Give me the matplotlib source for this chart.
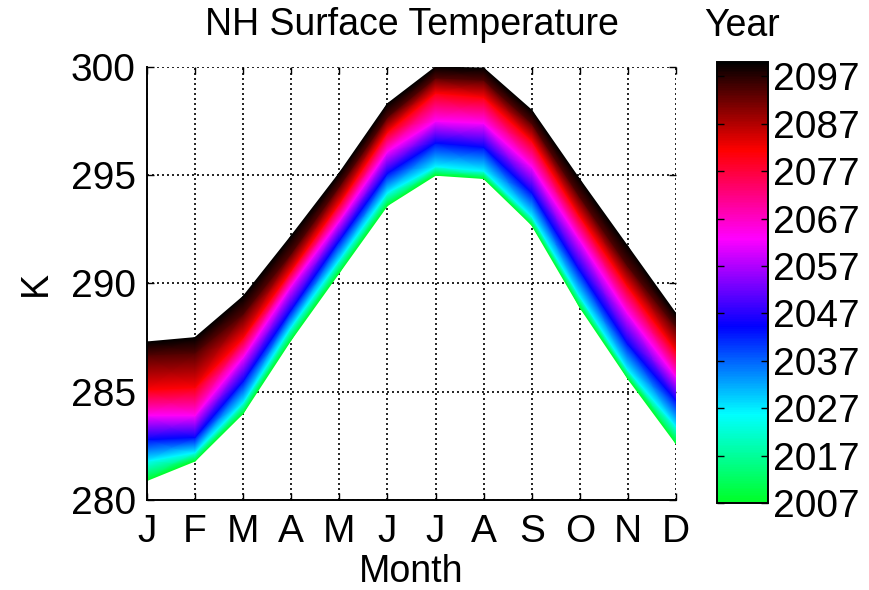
import numpy as np
import matplotlib
matplotlib.use('Agg')
import matplotlib.pyplot as plt
from matplotlib.colors import LinearSegmentedColormap, Normalize
import matplotlib.cm as cm

# ==================== Data ====================
MONTHS = ['J', 'F', 'M', 'A', 'M', 'J', 'J', 'A', 'S', 'O', 'N', 'D']

# NH surface temperature (K) for selected years, one value per month
YEARS = [2007, 2026, 2044, 2063, 2081, 2094, 2100]
T_2007 = [280.9, 281.8, 284.0, 287.4, 290.5, 293.6, 295.0, 294.85, 292.7, 288.9, 285.6, 282.6]
T_2026 = [281.8, 282.2, 284.5, 288.0, 291.1, 294.2, 295.4, 295.2, 293.1, 289.4, 286.0, 283.4]
T_2044 = [282.8, 282.9, 285.5, 288.8, 292.0, 295.1, 296.5, 296.3, 294.2, 290.6, 287.2, 284.6]
T_2063 = [283.9, 283.9, 286.6, 289.9, 292.9, 296.1, 297.5, 297.4, 295.4, 292.0, 288.6, 285.7]
T_2081 = [285.1, 285.2, 287.5, 290.6, 293.7, 297.0, 298.8, 298.6, 296.6, 293.1, 289.85, 286.9]
T_2094 = [286.7, 286.8, 288.6, 291.4, 294.5, 297.7, 299.5, 299.4, 297.4, 294.0, 290.8, 288.0]
T_2100 = [287.3, 287.5, 289.4, 292.2, 295.1, 298.3, 300.0, 299.95, 298.0, 294.8, 291.7, 288.6]

YTICKS = [280, 285, 290, 295, 300]
CBAR_TICKS = [2007, 2017, 2027, 2037, 2047, 2057, 2067, 2077, 2087, 2097]

# ==================== Style ====================
FONT = 'Liberation Sans'
FS = 27
plt.rcParams.update({
    'font.family': [FONT, 'DejaVu Sans'],
    'font.size': FS,
})

# green -> cyan -> blue -> magenta -> red -> black
cmap = LinearSegmentedColormap.from_list(
    'year', [(0, 1, 0.15), (0, 1, 1), (0, 0, 1), (1, 0, 1), (1, 0, 0), (0, 0, 0)])
norm = Normalize(vmin=2007, vmax=2100)

fig = plt.figure(figsize=(8.69, 5.90), dpi=100)
ax = fig.add_axes([0.169, 0.1525, 0.609, 0.734])

temps = np.vstack([T_2007, T_2026, T_2044, T_2063, T_2081, T_2094, T_2100])
xx = np.tile(np.arange(len(MONTHS)), (len(YEARS), 1))
cc = np.repeat(np.array(YEARS, dtype=float)[:, None], len(MONTHS), axis=1)
ax.pcolormesh(xx, temps, cc, cmap=cmap, norm=norm, shading='gouraud', zorder=2)

ax.set_xlim(0, len(MONTHS) - 1)
ax.set_ylim(280, 300)
ax.set_xticks(np.arange(len(MONTHS)))
ax.set_xticklabels(MONTHS)
ax.set_yticks(YTICKS)
ax.grid(True, color='black', linestyle=(0, (1.2, 1.8)), linewidth=1.2, zorder=1)
ax.set_axisbelow(True)
for side in ['top', 'right']:
    ax.spines[side].set_visible(False)
for side in ['left', 'bottom']:
    ax.spines[side].set_linewidth(1.4)
    ax.spines[side].set_zorder(3)
ax.tick_params(axis='both', direction='in', length=5, width=1.0,
               top=True, right=True, labelsize=28)
ax.tick_params(axis='x', pad=10)
ax.tick_params(axis='y', pad=8)

ax.set_title('NH Surface Temperature', fontsize=FS, pad=23)
ax.set_xlabel('Month', fontsize=FS, labelpad=3)
ax.set_ylabel('K', fontsize=FS, labelpad=12)

# ==================== Colorbar ====================
cax = fig.add_axes([0.825, 0.147, 0.0587, 0.748])
sm = cm.ScalarMappable(norm=norm, cmap=cmap)
cb = fig.colorbar(sm, cax=cax, ticks=CBAR_TICKS)
cb.outline.set_linewidth(1.4)
cax.tick_params(direction='in', length=5, width=1.0, left=True, right=True,
                labelsize=28, pad=4)
cax.set_title('Year', fontsize=FS, pad=19)

fig.savefig('out.png', dpi=100, facecolor='white')
